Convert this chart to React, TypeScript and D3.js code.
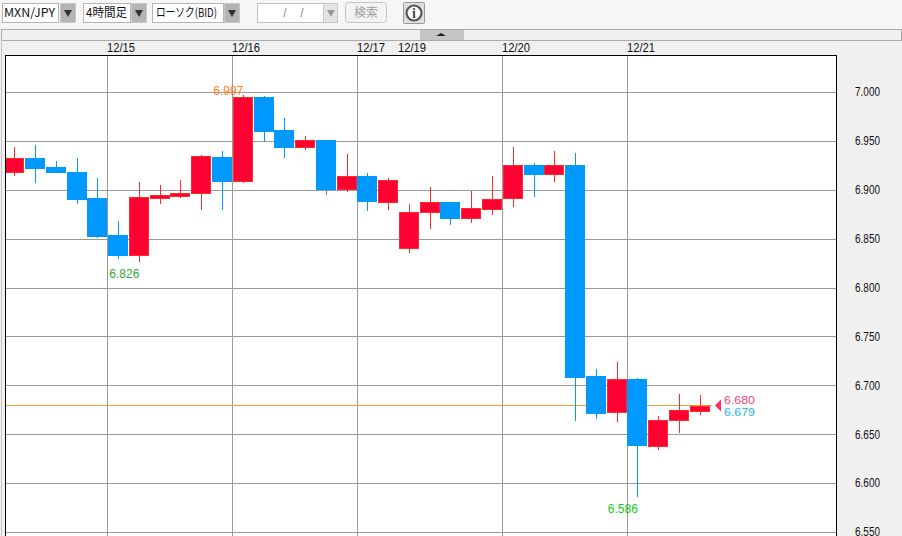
import React, { useRef, useEffect } from "react";
import * as d3 from "d3";

const WIDTH = 902;
const HEIGHT = 536;

// one entry per 4h bar
const barDays = [
  "12/14", "12/14", "12/14", "12/14", "12/14",
  "12/15", "12/15", "12/15", "12/15", "12/15", "12/15",
  "12/16", "12/16", "12/16", "12/16", "12/16", "12/16",
  "12/17", "12/17",
  "12/19", "12/19", "12/19", "12/19", "12/19",
  "12/20", "12/20", "12/20", "12/20", "12/20", "12/20",
  "12/21", "12/21", "12/21", "12/21",
];
const opens = [
  6.918, 6.932, 6.923, 6.918, 6.892, 6.854, 6.834, 6.892, 6.894, 6.897, 6.934, 6.909, 6.995, 6.961, 6.944, 6.951, 6.901,
  6.914, 6.888, 6.840, 6.877, 6.887, 6.871, 6.881, 6.891, 6.925, 6.916, 6.925, 6.710, 6.672, 6.706, 6.638, 6.665, 6.674,
];
const highs = [
  6.944, 6.946, 6.929, 6.932, 6.912, 6.868, 6.908, 6.905, 6.910, 6.936, 6.940, 6.997, 6.996, 6.973, 6.955, 6.951, 6.937,
  6.917, 6.912, 6.885, 6.903, 6.888, 6.899, 6.914, 6.944, 6.927, 6.940, 6.938, 6.717, 6.724, 6.708, 6.669, 6.691, 6.690,
];
const lows = [
  6.914, 6.907, 6.917, 6.885, 6.851, 6.829, 6.826, 6.885, 6.892, 6.879, 6.879, 6.907, 6.949, 6.932, 6.941, 6.895, 6.898,
  6.878, 6.879, 6.835, 6.860, 6.864, 6.866, 6.874, 6.882, 6.893, 6.908, 6.664, 6.666, 6.663, 6.586, 6.634, 6.651, 6.670,
];
const closes = [
  6.932, 6.922, 6.918, 6.890, 6.853, 6.834, 6.893, 6.895, 6.897, 6.935, 6.909, 6.995, 6.960, 6.944, 6.951, 6.901, 6.914,
  6.888, 6.910, 6.877, 6.887, 6.871, 6.881, 6.891, 6.925, 6.916, 6.925, 6.708, 6.672, 6.706, 6.638, 6.665, 6.675, 6.679,
];
const priceTicks = [7.0, 6.95, 6.9, 6.85, 6.8, 6.75, 6.7, 6.65, 6.6, 6.55];
const askPrice = 6.68;
const bidPrice = 6.679;
const highMark = { bar: 11, value: 6.997 };
const lowMarks = [
  { bar: 6, value: 6.826, color: "#33a833" },
  { bar: 30, value: 6.586, color: "#11cc11" },
];

const UP = "#ff0033";
const UP_EDGE = "#ff2a2a";
const DOWN = "#0099ff";
const GRID = "#999999";
const LABEL_FONT = "'Liberation Sans', sans-serif";
const JP_FONT = "'Noto Sans CJK JP', sans-serif";

const plot = { left: 5, right: 836, top: 55 };

const Toolbar: React.FC = () => {
  const boxes = [
    { x: 2, w: 56, ax: 60, text: "MXN/JPY", tx: 4, len: 51 },
    { x: 83, w: 47, ax: 131, text: "4時間足", tx: 86, len: 41 },
    { x: 152, w: 71, ax: 224, text: "ローソク(BID)", tx: 156, len: 61 },
  ];
  return (
    <g>
      <rect x={0} y={0} width={WIDTH} height={29} fill="#f6f6f6" />
      {boxes.map((b) => (
        <g key={b.text}>
          <rect x={b.x + 0.5} y={3.5} width={b.w} height={19} fill="#fff" stroke="#b5b5b5" />
          <text
            x={b.tx}
            y={17}
            fontSize={12}
            fontFamily={JP_FONT}
            fill="#111"
            textLength={b.len}
            lengthAdjust="spacingAndGlyphs"
          >
            {b.text}
          </text>
          <rect x={b.ax + 0.5} y={3.5} width={15} height={19} fill="#b4b4b4" stroke="#c8c8c8" />
          <path d={`M${b.ax + 4},10 h8 l-4,7 z`} fill="#333" />
        </g>
      ))}
      <rect x={257.5} y={3.5} width={66} height={19} fill="#fff" stroke="#c0c0c0" />
      <text x={285} y={17} fontSize={12} textAnchor="middle" fontFamily={LABEL_FONT} fill="#888">/</text>
      <text x={302} y={17} fontSize={12} textAnchor="middle" fontFamily={LABEL_FONT} fill="#888">/</text>
      <rect x={323.5} y={3.5} width={14} height={19} fill="#e4e4e4" stroke="#c8c8c8" />
      <path d="M327,10 h8 l-4,7 z" fill="#999" />
      <rect x={345.5} y={2.5} width={41} height={20} rx={3} fill="#f3f3f3" stroke="#c4c4c4" />
      <text x={366} y={17} fontSize={12} textAnchor="middle" fontFamily={JP_FONT} fill="#a0a0a0">検索</text>
      <rect x={403.5} y={2.5} width={21} height={21} rx={1} fill="#dedede" stroke="#9a9a9a" />
      <circle cx={414} cy={13} r={7.5} fill="#fff" stroke="#555" strokeWidth={2.2} />
      <text x={414} y={18} fontSize={14} fontWeight="bold" textAnchor="middle" fontFamily="'Liberation Serif', serif" fill="#444">i</text>
    </g>
  );
};

const App: React.FC = () => {
  const chartRef = useRef<SVGGElement>(null);

  useEffect(() => {
    if (!chartRef.current) return;
    const g = d3.select(chartRef.current);
    g.selectAll("*").remove();

    const x = d3
      .scaleBand<number>()
      .domain(d3.range(barDays.length))
      .range([3.5, 709.68]);
    const center = (i: number) => x(i)! + x.bandwidth() / 2 + 0.4;

    const y = d3.scaleLinear().domain([7, 6.55]).range([92, 532]);

    g.append("clipPath")
      .attr("id", "plot-clip")
      .append("rect")
      .attr("x", plot.left)
      .attr("y", plot.top)
      .attr("width", plot.right - plot.left)
      .attr("height", HEIGHT - plot.top);

    // plot background
    g.append("rect")
      .attr("x", plot.left)
      .attr("y", plot.top)
      .attr("width", plot.right - plot.left)
      .attr("height", HEIGHT - plot.top)
      .attr("fill", "#fff");

    // price axis, ticks stretched back over the plot as grid lines
    const yAxis = g
      .append("g")
      .attr("transform", `translate(${plot.right},0)`)
      .call(
        d3
          .axisRight(y)
          .tickValues(priceTicks)
          .tickSize(-(plot.right - plot.left))
          .tickFormat(d3.format(".3f") as any)
      );
    yAxis.select(".domain").remove();
    yAxis.selectAll("line").attr("stroke", GRID).attr("shape-rendering", "crispEdges");
    yAxis
      .selectAll("text")
      .attr("x", 19)
      .attr("dy", "0.32em")
      .attr("text-anchor", "start")
      .attr("font-family", LABEL_FONT)
      .attr("font-size", 12)
      .attr("textLength", 25)
      .attr("lengthAdjust", "spacingAndGlyphs")
      .attr("fill", "#111");

    // day boundaries
    const dayStarts = d3.range(1, barDays.length).filter((i) => barDays[i] !== barDays[i - 1]);
    g.append("g")
      .selectAll("line")
      .data(dayStarts.filter((i) => barDays[i] !== "12/19"))
      .join("line")
      .attr("x1", (i) => Math.round(x(i)!) + 0.5)
      .attr("x2", (i) => Math.round(x(i)!) + 0.5)
      .attr("y1", plot.top)
      .attr("y2", HEIGHT)
      .attr("stroke", GRID)
      .attr("shape-rendering", "crispEdges");
    g.append("g")
      .selectAll("text")
      .data(dayStarts)
      .join("text")
      .attr("x", (i) => Math.round(x(i)!))
      .attr("y", 52)
      .attr("font-family", LABEL_FONT)
      .attr("font-size", 12)
      .attr("textLength", 28)
      .attr("lengthAdjust", "spacingAndGlyphs")
      .attr("fill", "#111")
      .text((i) => barDays[i]);

    // last price line
    g.append("line")
      .attr("x1", plot.left)
      .attr("x2", x.range()[1] + 2)
      .attr("y1", Math.round(y(askPrice)) + 0.5)
      .attr("y2", Math.round(y(askPrice)) + 0.5)
      .attr("stroke", "#f0a030")
      .attr("shape-rendering", "crispEdges");

    // candles
    const idx = d3.range(barDays.length);
    const candles = g.append("g").attr("clip-path", "url(#plot-clip)");
    const colorOf = (i: number) => (closes[i] >= opens[i] ? UP : DOWN);
    candles
      .append("g")
      .selectAll("line")
      .data(idx)
      .join("line")
      .attr("x1", (i) => Math.round(center(i)) + 0.5)
      .attr("x2", (i) => Math.round(center(i)) + 0.5)
      .attr("y1", (i) => y(highs[i]))
      .attr("y2", (i) => y(lows[i]))
      .attr("stroke", (i) => (closes[i] >= opens[i] ? UP_EDGE : DOWN))
      .attr("shape-rendering", "crispEdges");
    candles
      .append("g")
      .selectAll("rect")
      .data(idx)
      .join("rect")
      .attr("x", (i) => Math.round(center(i)) - 9.5)
      .attr("width", 19)
      .attr("y", (i) => Math.round(y(Math.max(opens[i], closes[i]))) + 0.5)
      .attr("height", (i) => Math.max(1, Math.round(Math.abs(y(opens[i]) - y(closes[i])))))
      .attr("fill", colorOf)
      .attr("stroke", (i) => (closes[i] >= opens[i] ? UP_EDGE : DOWN))
      .attr("shape-rendering", "crispEdges");

    // high / low marks
    const mark = (bar: number, value: number, dy: number, color: string) =>
      g
        .append("text")
        .attr("x", center(bar) + 0.5)
        .attr("y", y(value) + dy)
        .attr("text-anchor", "end")
        .attr("font-family", LABEL_FONT)
        .attr("font-size", 12)
        .attr("fill", color)
        .text(value.toFixed(3));
    mark(highMark.bar, highMark.value, 0, "#ff7f27");
    lowMarks.forEach((m) => mark(m.bar, m.value, 16, m.color));

    // current price flag
    const py = Math.round(y(askPrice));
    const tri = d3.path();
    tri.moveTo(715, py + 0.5);
    tri.lineTo(721, py - 5.5);
    tri.lineTo(721, py + 6.5);
    tri.closePath();
    g.append("path").attr("d", tri.toString()).attr("fill", "#ff2a66");
    g.append("text")
      .attr("x", 724)
      .attr("y", py - 1)
      .attr("font-family", LABEL_FONT)
      .attr("font-size", 11)
      .attr("textLength", 31)
      .attr("lengthAdjust", "spacingAndGlyphs")
      .attr("fill", "#ee4477")
      .text(askPrice.toFixed(3));
    g.append("text")
      .attr("x", 724)
      .attr("y", py + 11)
      .attr("font-family", LABEL_FONT)
      .attr("font-size", 11)
      .attr("textLength", 31)
      .attr("lengthAdjust", "spacingAndGlyphs")
      .attr("fill", "#22b5ee")
      .text(bidPrice.toFixed(3));

    // plot frame, bottom runs off the page
    g.append("path")
      .attr("d", `M${plot.left + 0.5},${HEIGHT} V${plot.top + 0.5} H${plot.right + 0.5} V${HEIGHT}`)
      .attr("fill", "none")
      .attr("stroke", "#000")
      .attr("shape-rendering", "crispEdges");
  }, []);

  return (
    <svg
      width={WIDTH}
      height={HEIGHT}
      style={{ position: "absolute", left: 0, top: 0 }}
    >
      <rect x={0} y={0} width={WIDTH} height={HEIGHT} fill="#f0f0f0" />
      <Toolbar />
      {/* collapse strip */}
      <rect x={1.5} y={29.5} width={WIDTH - 2} height={11} fill="#f0f0f0" stroke="#aaa" />
      <rect x={420} y={30} width={44} height={10} fill="#c4c4c4" />
      <path d="M436,36 l5,-3 l5,3 z" fill="#222" />
      <line x1={1.5} x2={1.5} y1={40} y2={HEIGHT} stroke="#c4c4c4" />
      <g ref={chartRef} />
    </svg>
  );
};

export default App;
